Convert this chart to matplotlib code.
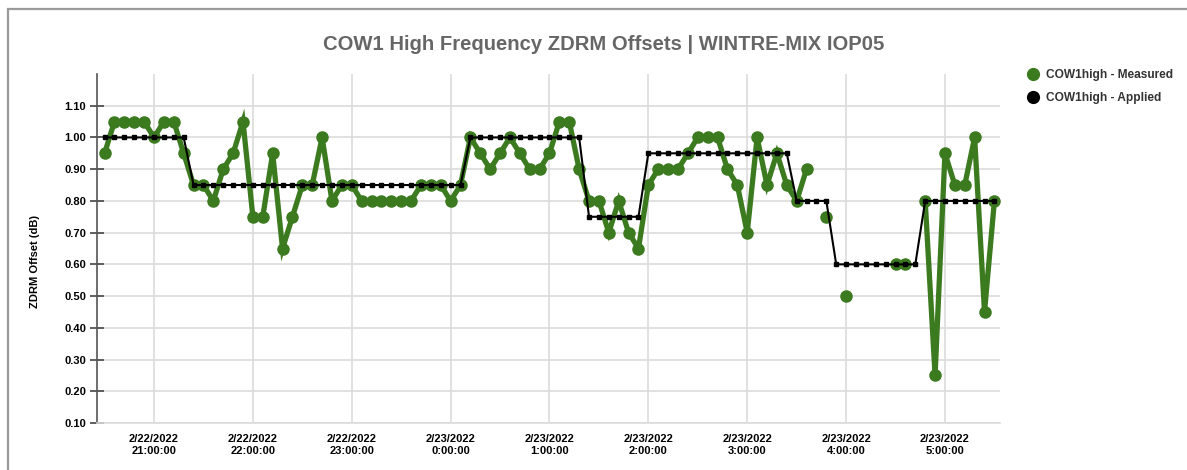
import numpy as np
import pandas as pd
import matplotlib
matplotlib.use('Agg')
import matplotlib.pyplot as plt
import matplotlib.dates as mdates
from matplotlib.lines import Line2D
from matplotlib.patches import Rectangle

# --- DONNEES ---
# one sample every 6 minutes, 2/22/2022 20:30 -> 2/23/2022 5:30
t_start = '2022-02-22 20:30:00'
n_samples = 91
times = pd.date_range(t_start, periods=n_samples, freq='6min')

nan = np.nan
measured = [
    0.95, 1.05, 1.05, 1.05, 1.05, 1.00, 1.05, 1.05, 0.95, 0.85,
    0.85, 0.80, 0.90, 0.95, 1.05, 0.75, 0.75, 0.95, 0.65, 0.75,
    0.85, 0.85, 1.00, 0.80, 0.85, 0.85, 0.80, 0.80, 0.80, 0.80,
    0.80, 0.80, 0.85, 0.85, 0.85, 0.80, 0.85, 1.00, 0.95, 0.90,
    0.95, 1.00, 0.95, 0.90, 0.90, 0.95, 1.05, 1.05, 0.90, 0.80,
    0.80, 0.70, 0.80, 0.70, 0.65, 0.85, 0.90, 0.90, 0.90, 0.95,
    1.00, 1.00, 1.00, 0.90, 0.85, 0.70, 1.00, 0.85, 0.95, 0.85,
    0.80, 0.90, nan, 0.75, nan, 0.50, nan, nan, nan, nan,
    0.60, 0.60, nan, 0.80, 0.25, 0.95, 0.85, 0.85, 1.00, 0.45,
    0.80,
]
applied = (
    [1.00] * 9 + [0.85] * 28 + [1.00] * 12 + [0.75] * 6 +
    [0.95] * 15 + [0.80] * 4 + [0.60] * 9 + [0.80] * 8
)

y_ticks = [0.10, 0.20, 0.30, 0.40, 0.50, 0.60, 0.70, 0.80, 0.90, 1.00, 1.10]

title = 'COW1 High Frequency ZDRM Offsets | WINTRE-MIX IOP05'
y_label = 'ZDRM Offset (dB)'
label_measured = 'COW1high - Measured'
label_applied = 'COW1high - Applied'

green = '#3b7a1f'

plt.rcParams['font.family'] = ['Liberation Sans', 'DejaVu Sans']
plt.rcParams['font.weight'] = 'bold'

# --- FIGURE ---
fig = plt.figure(figsize=(11.87, 4.70), dpi=100)
ax = fig.add_axes([97 / 1187, 1 - 423 / 470, 903 / 1187, 349 / 470])

# cadre gris autour du graphique
fig.patches.append(Rectangle((8 / 1187, -0.05), 1.2, 1 - 9 / 470 + 0.05,
                             transform=fig.transFigure, fill=False,
                             edgecolor='#9a9a9a', lw=1.6, zorder=0))

ax.plot(times, measured, color=green, lw=3.8, marker='o', ms=8,
        solid_joinstyle='miter', zorder=3)
ax.plot(times, applied, color='black', lw=1.5, marker='s', ms=2.6,
        zorder=4)

ax.set_ylim(0.10, 1.20)
ax.set_yticks(y_ticks)
ax.set_yticklabels(['%.2f' % v for v in y_ticks])
ax.set_xlim(pd.Timestamp('2022-02-22 20:25:24'), pd.Timestamp('2022-02-23 05:33:24'))

ax.xaxis.set_major_locator(mdates.HourLocator())
ax.xaxis.set_major_formatter(plt.FuncFormatter(
    lambda v, pos: '{d.month}/{d.day}/{d.year}\n{d.hour}:{d.minute:02d}:{d.second:02d}'.format(
        d=mdates.num2date(v))))

ax.grid(True, color='#dcdcdc', lw=1.2)
ax.set_axisbelow(True)
for s in ['top', 'right']:
    ax.spines[s].set_visible(False)
ax.spines['bottom'].set_color('#dcdcdc')
ax.spines['bottom'].set_linewidth(1.2)
ax.spines['left'].set_color('#555555')
ax.spines['left'].set_linewidth(1.2)

ax.tick_params(axis='y', direction='inout', length=10, width=1.2, color='#444444',
               labelsize=8, pad=3)
ax.tick_params(axis='x', length=0, labelsize=8, pad=8)
for lab in ax.get_xticklabels() + ax.get_yticklabels():
    lab.set_fontweight('bold')

fig.text(604 / 1187, 1 - 44 / 470, title, ha='center', va='center',
         fontsize=14.6, fontweight='bold', color='#666666')
fig.text(35 / 1187, 1 - 261 / 470, y_label, ha='center', va='center',
         rotation=90, fontsize=8, fontweight='bold')

handles = [Line2D([], [], ls='none', marker='o', ms=8.5, color=green),
           Line2D([], [], ls='none', marker='o', ms=8.5, color='black')]
fig.legend(handles, [label_measured, label_applied], loc='upper left',
           bbox_to_anchor=(1024 / 1187, 1 - 69 / 470), frameon=False,
           prop={'size': 8.6, 'weight': 'bold'}, labelcolor='#333333',
           handletextpad=0.3, labelspacing=0.95, borderaxespad=0,
           borderpad=0, handlelength=1.5)

fig.savefig('out.png', dpi=100)
